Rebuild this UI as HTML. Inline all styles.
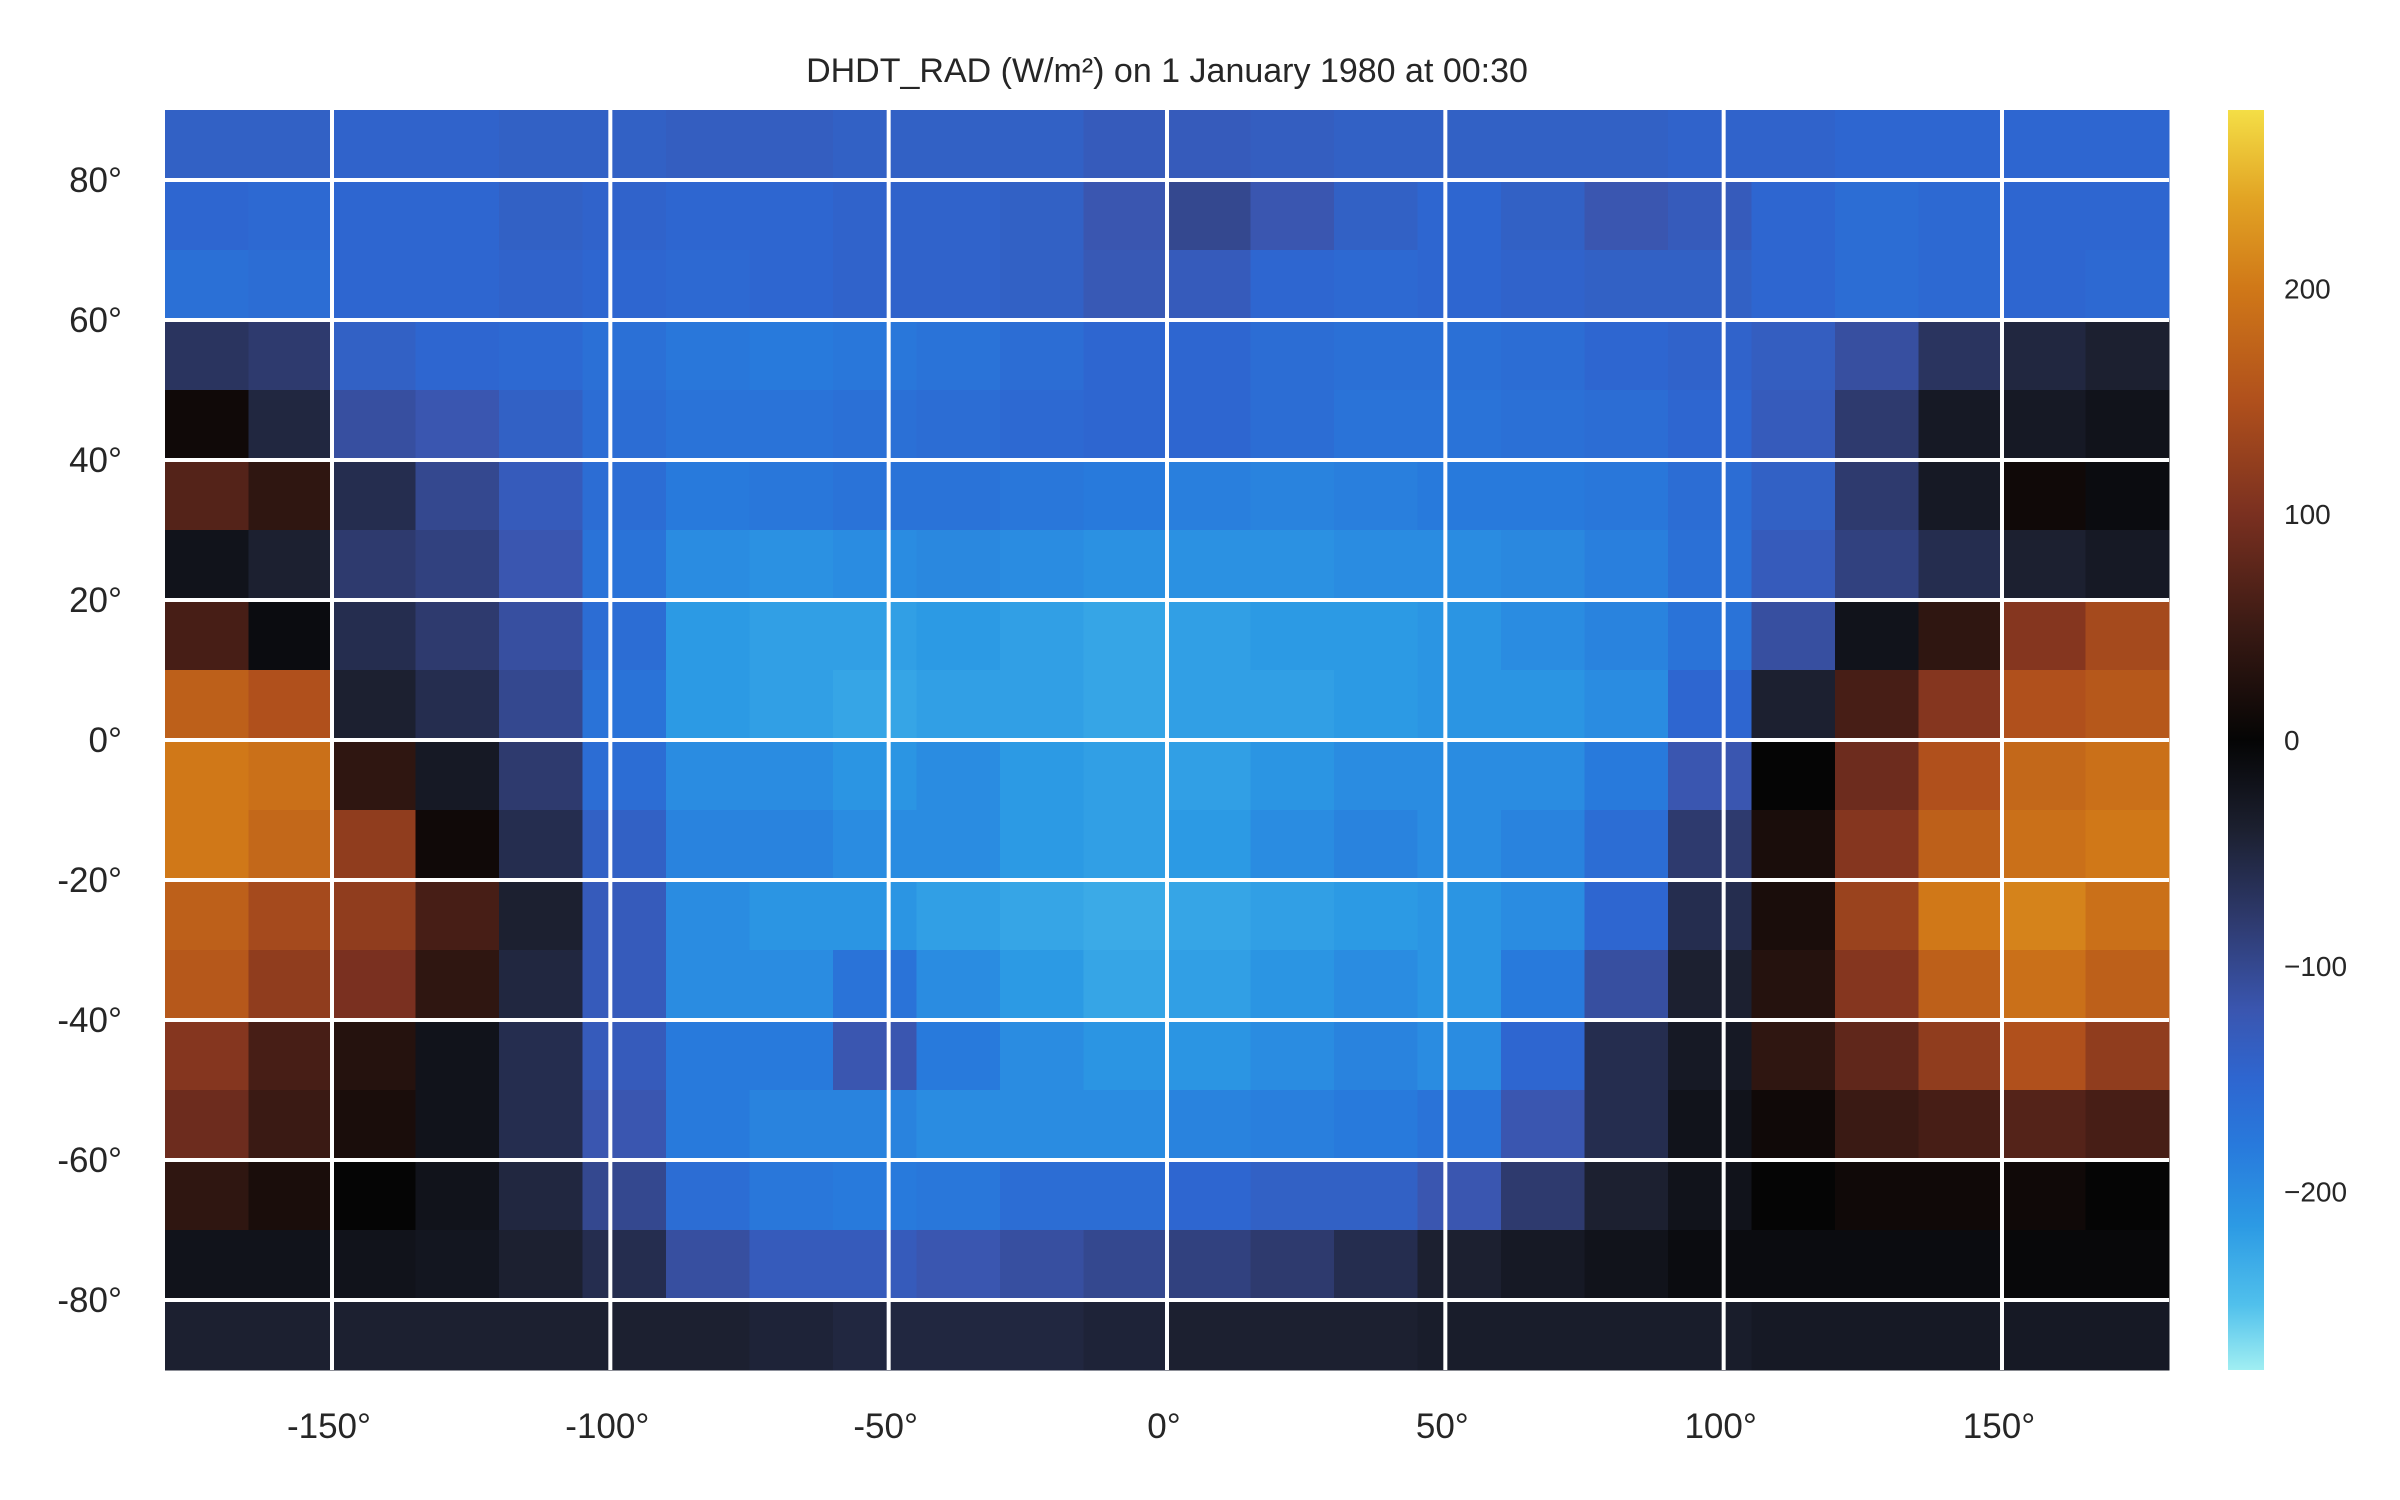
<!DOCTYPE html>
<html><head><meta charset="utf-8">
<style>
html,body{margin:0;padding:0;background:#fff;}
svg{display:block;}
text{font-family:"Liberation Sans",sans-serif;fill:#262626;}
</style></head>
<body>
<svg id="chart" width="2400" height="1500" viewBox="0 0 2400 1500">
<text x="1167" y="82" font-size="34" text-anchor="middle">DHDT_RAD (W/m²) on 1 January 1980 at 00:30</text>
<g id="cells"></g>
<g id="grid"></g>
<g id="xticks"></g>
<g id="yticks"></g>
<defs><linearGradient id="cbgrad" x1="0" y1="1" x2="0" y2="0"></linearGradient></defs>
<rect x="2228" y="110" width="36" height="1260" fill="url(#cbgrad)"/>
<g id="cbticks"></g>
</svg>
<script>
const lonTicks=[-150,-100,-50,0,50,100,150];
const latTicks=[80,60,40,20,0,-20,-40,-60,-80];
const cbTicks=[200,100,0,-100,-200];
const lonEdges=[-180,-165,-150,-135,-120,-105,-90,-75,-60,-45,-30,-15,0,15,30,45,60,75,90,105,120,135,150,165,180];
const latEdges=[90,80,70,60,50,40,30,20,10,0,-10,-20,-30,-40,-50,-60,-70,-80,-90];
const r85=[-140,-140,-145,-145,-140,-140,-135,-135,-140,-140,-140,-130,-130,-135,-140,-140,-140,-140,-145,-145,-150,-150,-150,-150];
const r75=[-150,-155,-150,-150,-140,-145,-150,-150,-145,-145,-140,-120,-100,-120,-140,-150,-140,-120,-130,-150,-160,-155,-150,-150];
const r65=[-165,-160,-150,-150,-145,-150,-155,-150,-145,-145,-140,-125,-130,-150,-155,-150,-145,-140,-140,-150,-160,-155,-150,-155];
const r55=[-70,-80,-140,-150,-155,-165,-175,-180,-175,-170,-160,-150,-150,-160,-165,-165,-160,-150,-145,-135,-110,-70,-50,-40];
const r45=[10,-50,-110,-120,-140,-160,-170,-170,-165,-160,-155,-150,-150,-160,-170,-170,-165,-160,-150,-130,-80,-30,-30,-20];
const r35=[70,40,-60,-100,-130,-160,-180,-175,-170,-170,-175,-180,-185,-190,-185,-180,-180,-175,-160,-140,-80,-30,10,-10];
const r25=[-20,-40,-80,-90,-120,-170,-200,-205,-200,-195,-200,-205,-205,-205,-200,-200,-195,-185,-165,-130,-90,-60,-40,-30];
const r15=[60,-10,-60,-80,-110,-160,-215,-220,-220,-215,-220,-225,-220,-215,-215,-210,-200,-190,-170,-110,-20,40,110,140];
const r5=[170,150,-40,-60,-100,-170,-215,-220,-225,-220,-220,-225,-220,-220,-215,-210,-210,-200,-150,-40,60,110,150,160];
const rm5=[200,190,40,-30,-80,-160,-200,-200,-210,-200,-215,-220,-220,-210,-200,-200,-200,-180,-120,0,90,150,180,190];
const rm15=[200,180,120,10,-60,-140,-190,-190,-200,-200,-215,-220,-215,-200,-190,-200,-190,-160,-80,20,110,170,190,200];
const rm25=[170,140,120,60,-40,-130,-200,-210,-210,-220,-225,-230,-225,-220,-215,-210,-200,-150,-60,20,130,200,210,190];
const rm35=[160,120,100,40,-50,-130,-200,-200,-170,-200,-215,-225,-220,-210,-200,-210,-180,-110,-40,30,110,170,190,170];
const rm45=[110,60,30,-20,-60,-130,-180,-180,-120,-180,-200,-210,-210,-200,-190,-200,-150,-60,-30,40,80,120,150,120];
const rm55=[90,50,20,-20,-60,-120,-180,-190,-190,-200,-200,-200,-190,-185,-180,-170,-120,-60,-20,10,50,60,70,60];
const rm65=[40,20,0,-20,-50,-100,-160,-175,-180,-175,-160,-160,-150,-140,-140,-120,-80,-40,-20,0,10,10,10,0];
const rm75=[-20,-20,-20,-25,-40,-60,-110,-130,-130,-120,-110,-100,-90,-80,-60,-40,-30,-20,-10,-10,-10,-10,-5,-5];
const rm85=[-40,-40,-40,-40,-40,-40,-40,-45,-50,-50,-50,-45,-40,-40,-40,-35,-35,-35,-35,-30,-30,-30,-30,-30];
const rows=[r85,r75,r65,r55,r45,r35,r25,r15,r5,rm5,rm15,rm25,rm35,rm45,rm55,rm65,rm75,rm85];

const NS="http://www.w3.org/2000/svg";
const X0=165,X1=2169,Y0=110,Y1=1370,VMIN=-279,VMAX=279;
const xs=lon=>X0+(lon+180)/360*(X1-X0);
const ys=lat=>Y0+(90-lat)/180*(Y1-Y0);
const cy=v=>Y1-(v-VMIN)/(VMAX-VMIN)*(Y1-Y0);
const stops=[[-279,[160,238,242]],[-250,[80,192,236]],[-215,[44,154,228]],[-180,[40,122,220]],[-150,[46,102,208]],[-120,[58,86,176]],[-80,[46,58,110]],[-40,[28,32,48]],[0,[5,5,5]],[50,[58,26,20]],[100,[122,48,32]],[150,[176,80,28]],[200,[208,120,24]],[240,[226,164,36]],[279,[244,222,70]]];
function cmap(v){
  v=Math.max(VMIN,Math.min(VMAX,v));
  for(let i=0;i<stops.length-1;i++){
    const a=stops[i],b=stops[i+1];
    if(v<=b[0]){const t=(v-a[0])/(b[0]-a[0]);
      const c=a[1].map((x,k)=>Math.round(x+(b[1][k]-x)*t));
      return `rgb(${c[0]},${c[1]},${c[2]})`;}
  }
  return 'rgb(244,222,70)';
}
function mk(tag,attrs,parent){const e=document.createElementNS(NS,tag);for(const k in attrs)e.setAttribute(k,attrs[k]);parent.appendChild(e);return e;}

const cells=document.getElementById('cells');
rows.forEach((row,ri)=>{
  row.forEach((v,ci)=>{
    const x=xs(lonEdges[ci]),x2=xs(lonEdges[ci+1]);
    const y=ys(latEdges[ri]),y2=ys(latEdges[ri+1]);
    const r=mk('rect',{x:x,y:y,width:x2-x+0.5,height:y2-y+0.5,fill:cmap(v)},cells);
    
    
  });
});

const grid=document.getElementById('grid');
lonTicks.forEach(l=>{
  const ln=mk('line',{x1:xs(l),x2:xs(l),y1:Y0,y2:Y1,stroke:'#fff','stroke-width':4},grid);
  
  
});
latTicks.forEach(l=>{
  const ln=mk('line',{x1:X0,x2:X1,y1:ys(l),y2:ys(l),stroke:'#fff','stroke-width':4},grid);
  
  
});
const xt=document.getElementById('xticks');
lonTicks.forEach(l=>{
  const t=mk('text',{x:xs(l)-3,y:1438,'font-size':35,'text-anchor':'middle'},xt);
  t.textContent=l+'°';
  
  
});
const yt=document.getElementById('yticks');
latTicks.forEach(l=>{
  const t=mk('text',{x:122,y:ys(l)+12,'font-size':35,'text-anchor':'end'},yt);
  t.textContent=l+'°';
  
  
});
const grad=document.getElementById('cbgrad');
stops.forEach(s=>{
  mk('stop',{offset:((s[0]-VMIN)/(VMAX-VMIN)*100)+'%','stop-color':cmap(s[0])},grad);
});
const cbt=document.getElementById('cbticks');
cbTicks.forEach(v=>{
  const t=mk('text',{x:2284,y:cy(v)+10,'font-size':28},cbt);
  t.textContent=v<0?'\u2212'+(-v):String(v);
  
  
});
</script>
</body></html>
